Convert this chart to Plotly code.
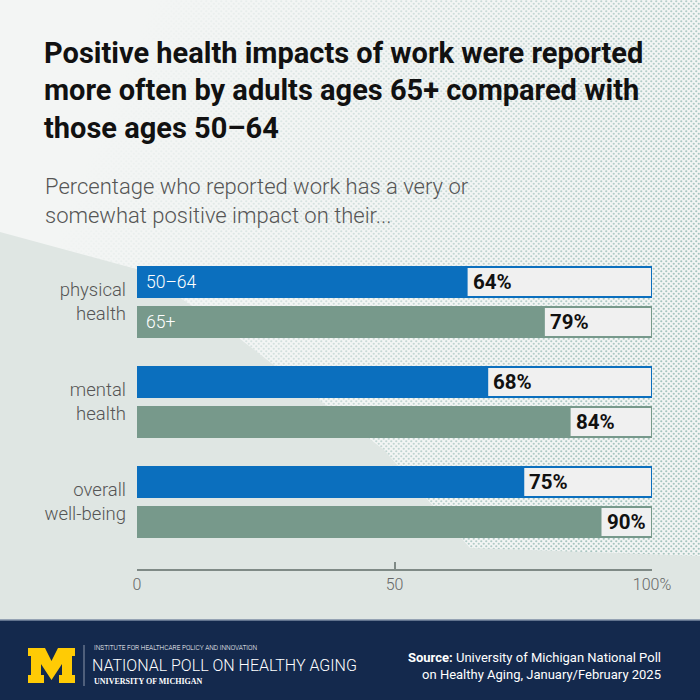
import base64
import plotly.graph_objects as go

# Data
categories = ["physical<br>health", "mental<br>health", "overall<br>well-being"]
age_groups = ["50–64", "65+"]
pct_50_64 = [64, 68, 75]
pct_65_plus = [79, 84, 90]
tick_vals = [0, 50, 100]
tick_text = ["0", "50", "100%"]

title_lines = ["Positive health impacts of work were reported",
               "more often by adults ages 65+ compared with",
               "those ages 50–64"]
subtitle = "Percentage who reported work has a very or<br>somewhat positive impact on their..."

BLUE = "#0b6fbe"
GREEN = "#77998b"
TRACK = "#f0f0f0"
NAVY = "#14294d"
FONT = "Roboto, Lato, sans-serif"


def px(x):
    return x / 700


def py(y):
    return 1 - y / 700


idx = list(range(len(categories)))
y_blue = [i - 0.2 for i in idx]
y_green = [i + 0.2 for i in idx]

fig = go.Figure()

# full-length tracks behind the bars
for ys, col in [(y_blue, BLUE), (y_green, GREEN)]:
    fig.add_trace(go.Bar(x=[100] * len(ys), y=ys, orientation="h", width=0.3,
                         marker=dict(color=TRACK, line=dict(color=col, width=2)),
                         hoverinfo="skip", showlegend=False))

for ys, vals, col, name in [(y_blue, pct_50_64, BLUE, age_groups[0]),
                            (y_green, pct_65_plus, GREEN, age_groups[1])]:
    fig.add_trace(go.Bar(x=vals, y=ys, orientation="h", width=0.3, name=name,
                         marker=dict(color=col, line=dict(color=col, width=2)),
                         showlegend=False))

annotations = []
# value labels
for ys, vals in [(y_blue, pct_50_64), (y_green, pct_65_plus)]:
    for y, v in zip(ys, vals):
        annotations.append(dict(x=v, y=y, xref="x", yref="y", text=f"<b>{v}%</b>",
                                xanchor="left", xshift=4, showarrow=False,
                                font=dict(family=FONT, size=20.5, color="#111")))
# series names inside first group
for y, name in [(y_blue[0], age_groups[0]), (y_green[0], age_groups[1])]:
    annotations.append(dict(x=0, y=y, xref="x", yref="y", text=name, xanchor="left",
                            xshift=7, showarrow=False,
                            font=dict(family=FONT, size=17.5, color="white", weight=300)))

# title, one annotation per line for the tight leading
for k, line in enumerate(title_lines):
    annotations.append(dict(x=px(42), y=py(53 + 37.5 * k), xref="paper", yref="paper",
                            xanchor="left", yanchor="middle", showarrow=False,
                            text=f"<b>{line}</b>",
                            font=dict(family=FONT, size=29, color="#111")))
annotations.append(dict(x=px(43), y=py(201), xref="paper", yref="paper", xanchor="left",
                        yanchor="middle", align="left", showarrow=False, text=subtitle,
                        font=dict(family=FONT, size=22, color="#555", weight=300)))

# footer texts
footer = [
    (92, 648, "INSTITUTE FOR HEALTHCARE POLICY AND INNOVATION", 6.5, FONT),
    (90, 665, "NATIONAL POLL ON HEALTHY AGING", 16, FONT),
    (92, 681, "<b>UNIVERSITY OF MICHIGAN</b>", 8, "Liberation Serif, DejaVu Serif, serif"),
]
for x, y, txt, size, fam in footer:
    annotations.append(dict(x=px(x), y=py(y), xref="paper", yref="paper", xanchor="left",
                            yanchor="middle", showarrow=False, text=txt,
                            font=dict(family=fam, size=size, color="white", weight=300)))
annotations.append(dict(x=px(663), y=py(666), xref="paper", yref="paper", xanchor="right",
                        yanchor="middle", align="right", showarrow=False,
                        text="<b>Source:</b> University of Michigan National Poll<br>"
                             "on Healthy Aging, January/February 2025",
                        font=dict(family=FONT, size=13, color="white")))

# background: light top, halftone dots to the right, grey-green lower left
svg = """<svg xmlns="http://www.w3.org/2000/svg" width="700" height="700" viewBox="0 0 700 700">
<defs>
<pattern id="d" width="5" height="5" patternUnits="userSpaceOnUse">
<circle cx="1.25" cy="1.25" r="1.1" fill="#a5c4bf"/><circle cx="3.75" cy="3.75" r="1.1" fill="#a5c4bf"/>
</pattern>
<linearGradient id="g" x1="150" y1="0" x2="700" y2="220" gradientUnits="userSpaceOnUse">
<stop offset="0" stop-color="#fff" stop-opacity="0"/><stop offset="1" stop-color="#fff" stop-opacity="1"/>
</linearGradient>
<mask id="m"><rect width="700" height="700" fill="url(#g)"/></mask>
</defs>
<rect width="700" height="700" fill="#f3f5f4"/>
<rect width="700" height="700" fill="url(#d)" mask="url(#m)"/>
<polygon points="0,232 140,270 240,339 384,450 470,548 700,556 700,700 0,700" fill="#dfe6e3"/>
</svg>"""
bg_src = "data:image/svg+xml;base64," + base64.b64encode(svg.encode()).decode()

# block M logo outline (pixel coords)
m_pts = [(28, 648), (45, 648), (51.5, 661), (58, 648), (75, 648), (75, 656), (72, 656),
         (72, 675), (75, 675), (75, 683), (59, 683), (59, 675), (62, 675), (62, 664),
         (51.5, 680), (41, 664), (41, 675), (44, 675), (44, 683), (28, 683), (28, 675),
         (31, 675), (31, 656), (28, 656)]
m_path = "M " + " L ".join(f"{px(x):.5f},{py(y):.5f}" for x, y in m_pts) + " Z"

shapes = [
    dict(type="rect", xref="paper", yref="paper", x0=0, x1=1, y0=0, y1=py(620),
         fillcolor=NAVY, line=dict(width=0), layer="below"),
    dict(type="line", xref="paper", yref="paper", x0=0, x1=1, y0=py(620), y1=py(620),
         line=dict(color="#7d8ca5", width=1.5)),
    dict(type="path", xref="paper", yref="paper", path=m_path, fillcolor="#ffcb05",
         line=dict(width=0)),
    dict(type="line", xref="paper", yref="paper", x0=px(84), x1=px(84), y0=py(645),
         y1=py(686), line=dict(color="#8a96aa", width=1)),
]

fig.update_layout(
    width=700, height=700, autosize=False,
    margin=dict(l=0, r=0, t=0, b=0, pad=0),
    barmode="overlay",
    paper_bgcolor="#dfe6e3",
    plot_bgcolor="rgba(0,0,0,0)",
    images=[dict(source=bg_src, xref="paper", yref="paper", x=0, y=1, sizex=1, sizey=1,
                 xanchor="left", yanchor="top", sizing="stretch", layer="below")],
    shapes=shapes,
    annotations=annotations,
    xaxis=dict(domain=[px(137), px(652)], range=[0, 100], anchor="free", position=py(570),
               showline=True, linecolor="#7f8a86", linewidth=1.5, ticks="inside",
               ticklen=7, tickwidth=1.5, tickcolor="#7f8a86", tickvals=tick_vals,
               ticktext=tick_text, showgrid=False, zeroline=False, fixedrange=True,
               automargin=False,
               tickfont=dict(family=FONT, size=16, color="#666", weight=300)),
    yaxis=dict(domain=[py(552), py(252)], range=[2.5, -0.5], tickvals=idx,
               ticktext=categories, ticks="", showline=False, showgrid=False,
               zeroline=False, ticklabelstandoff=10, fixedrange=True, automargin=False,
               tickfont=dict(family=FONT, size=18.5, color="#555", weight=300)),
)

# drop the page margin and scrollbars so the 700px figure fills the window
fix_page = ("document.body.style.margin='0';"
            "document.documentElement.style.overflow='hidden';"
            "document.body.style.overflow='hidden';"
            "Plotly.relayout('{plot_id}', {autosize: false, width: 701, height: 700})"
            ".then(function(){ return Plotly.relayout('{plot_id}', {width: 700}); });")
fig.write_html("out.html", config={"displayModeBar": False, "responsive": False},
               post_script=fix_page)
